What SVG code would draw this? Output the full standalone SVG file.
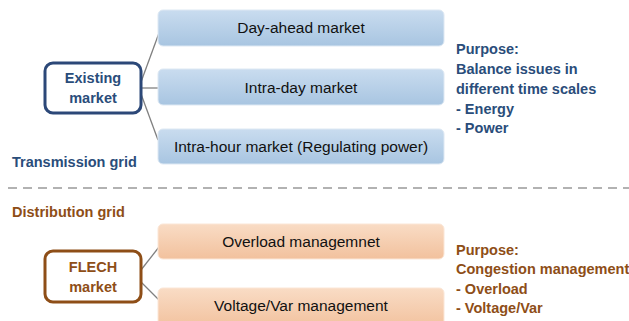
<svg xmlns="http://www.w3.org/2000/svg" width="629" height="321" viewBox="0 0 629 321">
<defs>
<linearGradient id="gb" x1="0" y1="0" x2="0" y2="1"><stop offset="0" stop-color="#c9dcef"/><stop offset="1" stop-color="#a8c5e1"/></linearGradient>
<linearGradient id="go" x1="0" y1="0" x2="0" y2="1"><stop offset="0" stop-color="#f9dcc5"/><stop offset="1" stop-color="#f2c19d"/></linearGradient>
<style>
.bb{fill:url(#gb);stroke:#dde8f3;stroke-width:1}
.ob{fill:url(#go);stroke:#fbe6d6;stroke-width:1}
.t{font-family:"Liberation Sans",Arial,sans-serif;font-size:15.5px;fill:#111;text-anchor:middle}
.hb{font-family:"Liberation Sans",Arial,sans-serif;font-size:14.5px;font-weight:bold;fill:#2a4d7a}
.ho{font-family:"Liberation Sans",Arial,sans-serif;font-size:14.5px;font-weight:bold;fill:#8e4e17}
.c{stroke:#808080;stroke-width:1.3;fill:none}
</style>
</defs>
<rect width="629" height="321" fill="#fff"/>
<g id="connectors">
<line class="c" x1="141" y1="82" x2="159" y2="33"/>
<line class="c" x1="141" y1="88" x2="160" y2="88"/>
<line class="c" x1="141" y1="94" x2="158" y2="140"/>
<line class="c" x1="141" y1="270" x2="159" y2="247"/>
<line class="c" x1="141" y1="282" x2="159" y2="300"/>
</g>
<g id="existing">
<rect x="45" y="63" width="96" height="50" rx="8" fill="#fff" stroke="#2c4878" stroke-width="3"/>
<text class="hb" x="93" y="83" text-anchor="middle">Existing</text>
<text class="hb" x="93" y="103" text-anchor="middle">market</text>
</g>
<g id="dayahead">
<rect class="bb" x="158" y="10" width="286" height="36" rx="5"/>
<text class="t" x="301" y="33">Day-ahead market</text>
</g>
<g id="intraday">
<rect class="bb" x="158" y="69" width="286" height="36" rx="5"/>
<text class="t" x="301" y="93">Intra-day market</text>
</g>
<g id="intrahour">
<rect class="bb" x="158" y="129" width="286" height="35" rx="5"/>
<text class="t" x="301" y="152">Intra-hour market (Regulating power)</text>
</g>
<g id="purpose-top">
<text class="hb" x="456" y="54">Purpose:</text>
<text class="hb" x="456" y="74">Balance issues in</text>
<text class="hb" x="456" y="94">different time scales</text>
<text class="hb" x="456" y="114">- Energy</text>
<text class="hb" x="456" y="133">- Power</text>
</g>
<text class="hb" x="12" y="167">Transmission grid</text>
<line x1="8" y1="188" x2="629" y2="188" stroke="#999" stroke-width="1.5" stroke-dasharray="9,6"/>
<text class="ho" x="12" y="217">Distribution grid</text>
<g id="flech">
<rect x="45" y="251" width="96" height="51" rx="8" fill="#fff" stroke="#8e4e17" stroke-width="3"/>
<text class="ho" x="93" y="272" text-anchor="middle">FLECH</text>
<text class="ho" x="93" y="292" text-anchor="middle">market</text>
</g>
<g id="overload">
<rect class="ob" x="158" y="224" width="286" height="35" rx="5"/>
<text class="t" x="301" y="247">Overload managemnet</text>
</g>
<g id="voltage">
<rect class="ob" x="158" y="288" width="286" height="40" rx="5"/>
<text class="t" x="301" y="311">Voltage/Var management</text>
</g>
<g id="purpose-bottom">
<text class="ho" x="456" y="255">Purpose:</text>
<text class="ho" x="456" y="274">Congestion management</text>
<text class="ho" x="456" y="294">- Overload</text>
<text class="ho" x="456" y="313">- Voltage/Var</text>
</g>
</svg>
